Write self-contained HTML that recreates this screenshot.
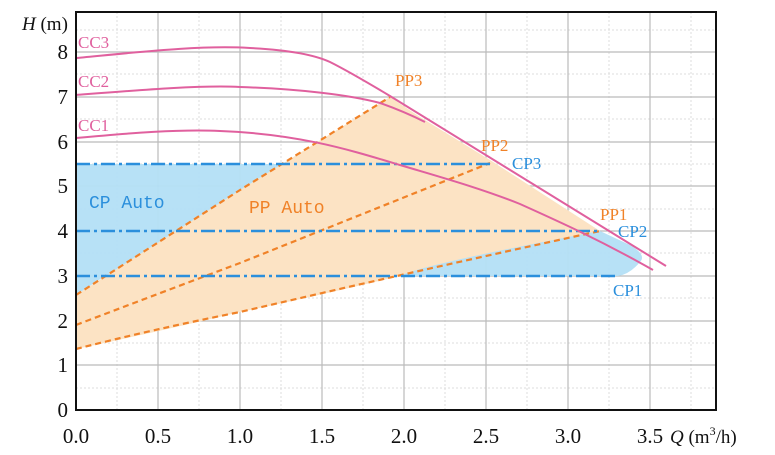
<!DOCTYPE html>
<html><head><meta charset="utf-8"><style>
html,body{margin:0;padding:0;background:#fff;}
svg{display:block;}
text{font-family:"Liberation Serif",serif;}
</style></head><body>
<svg width="775" height="455" viewBox="0 0 775 455" xmlns="http://www.w3.org/2000/svg">
<!-- minor grid -->
<g stroke="#ddd" stroke-width="1" stroke-dasharray="2,2">
<line x1="117" y1="12" x2="117" y2="410"/><line x1="199" y1="12" x2="199" y2="410"/>
<line x1="281" y1="12" x2="281" y2="410"/><line x1="363" y1="12" x2="363" y2="410"/>
<line x1="445" y1="12" x2="445" y2="410"/><line x1="527" y1="12" x2="527" y2="410"/>
<line x1="609" y1="12" x2="609" y2="410"/><line x1="691" y1="12" x2="691" y2="410"/>
<line x1="76" y1="388" x2="716" y2="388"/><line x1="76" y1="343" x2="716" y2="343"/>
<line x1="76" y1="298" x2="716" y2="298"/><line x1="76" y1="253" x2="716" y2="253"/>
<line x1="76" y1="209" x2="716" y2="209"/><line x1="76" y1="164" x2="716" y2="164"/>
<line x1="76" y1="119" x2="716" y2="119"/><line x1="76" y1="74" x2="716" y2="74"/>
<line x1="76" y1="30" x2="716" y2="30"/>
</g>
<g stroke="#bbb" stroke-width="1.2">
<line x1="158" y1="12" x2="158" y2="410"/><line x1="240" y1="12" x2="240" y2="410"/>
<line x1="322" y1="12" x2="322" y2="410"/><line x1="404" y1="12" x2="404" y2="410"/>
<line x1="486" y1="12" x2="486" y2="410"/><line x1="568" y1="12" x2="568" y2="410"/>
<line x1="650" y1="12" x2="650" y2="410"/>
<line x1="76" y1="365" x2="716" y2="365"/><line x1="76" y1="321" x2="716" y2="321"/>
<line x1="76" y1="276" x2="716" y2="276"/><line x1="76" y1="231" x2="716" y2="231"/>
<line x1="76" y1="186" x2="716" y2="186"/><line x1="76" y1="142" x2="716" y2="142"/>
<line x1="76" y1="97" x2="716" y2="97"/><line x1="76" y1="52" x2="716" y2="52"/>
</g>
<!-- blue fill -->
<path d="M76,164 L490,164 L600,231 L630,245 Q647,255 640,262 Q630,274 618,276 L105,276 L76,295 Z" fill="#b3dff5" fill-opacity="0.95"/>
<!-- orange fill -->
<path d="M76,295 Q170,235 240,190 L390,97 L420,117 L490,160 L600,231 Q420,265 400,276 Q300,300 240,312 Q157,332 76,349 Z" fill="#fce3c4"/>
<!-- PP lines -->
<g stroke="#f08228" stroke-width="2.2" fill="none" stroke-dasharray="6,4">
<path d="M76,295 Q165,238 240,190 L390,97"/>
<path d="M76,325 Q160,293 240,263 L490,163"/>
<path d="M76,349 Q150,330 240,312 Q420,270 600,231"/>
</g>
<!-- CP lines -->
<g stroke="#2b8fdc" stroke-width="2.5" fill="none" stroke-dasharray="14,4,3,4">
<line x1="76" y1="164" x2="490" y2="164"/>
<line x1="76" y1="231" x2="600" y2="231"/>
<line x1="76" y1="276" x2="618" y2="276"/>
</g>
<!-- CC curves -->
<g stroke="#e0609e" stroke-width="2" fill="none">
<path d="M76,58 C140,52 200,45 250,48 C290,50 315,55 330,62 C350,72 370,84 390,96 L666,266"/>
<path d="M76,95 C140,90 200,85 240,87 C300,89 350,95 380,103 C400,110 415,117 425,122"/>
<path d="M76,138 C130,133 180,129 220,131 C300,134 350,150 400,165 C440,177 480,188 520,204 C560,222 600,240 653,270"/>
</g>
<!-- frame -->
<rect x="76" y="12" width="640" height="398" fill="none" stroke="#111" stroke-width="2"/>
<!-- labels -->
<g font-size="17" fill="#e0609e">
<text x="78" y="48">CC3</text><text x="78" y="87">CC2</text><text x="78" y="131">CC1</text>
</g>
<g font-size="17" fill="#f08228">
<text x="395" y="86">PP3</text><text x="481" y="151">PP2</text><text x="600" y="220">PP1</text>
</g>
<g font-size="17" fill="#2b8fdc">
<text x="512" y="169">CP3</text><text x="618" y="237">CP2</text><text x="613" y="296">CP1</text>
</g>
<text x="89" y="208" font-size="18" fill="#2b8fdc" style="font-family:'Liberation Mono',monospace">CP Auto</text>
<text x="249" y="213" font-size="18" fill="#f08228" style="font-family:'Liberation Mono',monospace">PP Auto</text>
<!-- tick labels -->
<g font-size="21" fill="#111" text-anchor="end">
<text x="68" y="417">0</text><text x="68" y="372">1</text><text x="68" y="328">2</text>
<text x="68" y="283">3</text><text x="68" y="238">4</text><text x="68" y="193">5</text>
<text x="68" y="149">6</text><text x="68" y="104">7</text><text x="68" y="59">8</text>
</g>
<g font-size="21" fill="#111" text-anchor="middle">
<text x="76" y="443">0.0</text><text x="158" y="443">0.5</text><text x="240" y="443">1.0</text>
<text x="322" y="443">1.5</text><text x="404" y="443">2.0</text><text x="486" y="443">2.5</text>
<text x="568" y="443">3.0</text><text x="650" y="443">3.5</text>
</g>
<text x="22" y="30" font-size="19" fill="#111"><tspan font-style="italic">H</tspan> (m)</text>
<text x="670" y="443" font-size="19" fill="#111"><tspan font-style="italic">Q</tspan> (m<tspan font-size="12" dy="-8">3</tspan><tspan dy="8">/h)</tspan></text>
</svg>
</body></html>
